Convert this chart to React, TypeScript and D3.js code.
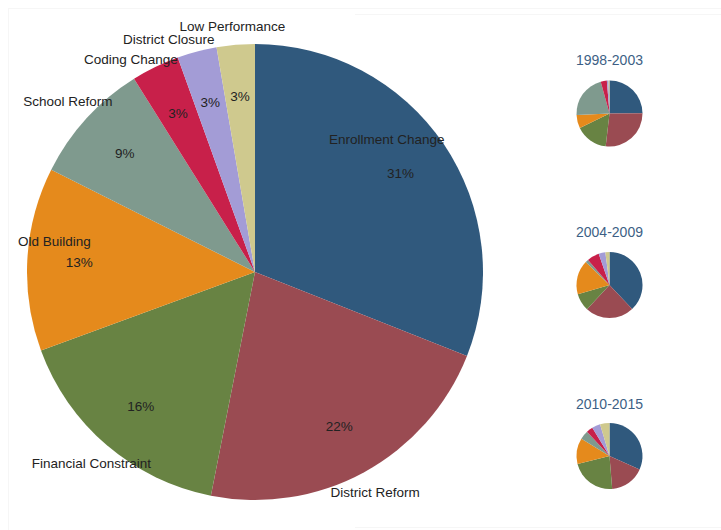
import React from "react";
import * as d3 from "d3";

const categories = [
  "Enrollment Change",
  "District Reform",
  "Financial Constraint",
  "Old Building",
  "School Reform",
  "Coding Change",
  "District Closure",
  "Low Performance",
];
const colors = ["#30597d", "#9a4b52", "#688343", "#e58a1c", "#7f9a8e", "#c8204a", "#a39cd6", "#cfc98e"];

const overallValues = [31.0, 22.1, 16.3, 13.0, 8.7, 3.4, 2.8, 2.7];

const periods = ["1998-2003", "2004-2009", "2010-2015"];
const values1998 = [25, 27, 16, 6.5, 21.5, 3, 0.8, 0.5];
const values2004 = [38, 24, 8.6, 16.7, 1.5, 6, 3.3, 2];
const values2010 = [31.6, 17, 22.3, 12.7, 4.3, 3.2, 4.1, 4.6];
const periodValues = [values1998, values2004, values2010];

// layout
const W = 721, H = 530;
const CX = 255, CY = 272, R = 228;
const PCT_R = 176;
// per-label adjustments (radius, angle offset in degrees) for collision/edge avoidance
const nameAdjust = [
  { r: 187, da: -11 },
  { r: 251, da: 0 },
  { r: 252, da: 0 },
  { r: 203, da: 5.6 },
  { r: 253, da: 0 },
  { r: 246, da: -4.4 },
  { r: 248, da: -5.6 },
  { r: 247, da: -0.4 },
];
const SMALL_CX = 609.5;
const SMALL_R = 33;
const SMALL_CY = [113.5, 285, 456];
const TITLE_Y = [60, 232, 404];

const FONT = "Arial, 'Liberation Sans', Helvetica, sans-serif";

function polar(cx: number, cy: number, r: number, a: number) {
  return [cx + r * Math.sin(a), cy - r * Math.cos(a)];
}

export default function App() {
  const pie = d3.pie<number>().sort(null).value((d) => d);
  const mainArcs = pie(overallValues);
  const total = d3.sum(overallValues);
  const arcMain = d3.arc<d3.PieArcDatum<number>>().innerRadius(0).outerRadius(R);
  const arcSmall = d3.arc<d3.PieArcDatum<number>>().innerRadius(0).outerRadius(SMALL_R);

  return (
    <svg
      width={W}
      height={H}
      style={{ position: "absolute", left: 0, top: 0, background: "#fff" }}
      fontFamily={FONT}
    >
      <g stroke="#f6f6f6" fill="none">
        <line x1={8} y1={8.5} x2={721} y2={8.5} />
        <line x1={8.5} y1={8} x2={8.5} y2={530} />
        <line x1={355} y1={14.5} x2={721} y2={14.5} />
        <line x1={355} y1={527.5} x2={721} y2={527.5} />
      </g>
      <g transform={`translate(${CX},${CY})`}>
        {mainArcs.map((a, i) => (
          <path key={i} d={arcMain(a) || ""} fill={colors[i]} />
        ))}
      </g>
      {mainArcs.map((a, i) => {
        const mid = (a.startAngle + a.endAngle) / 2;
        const [px, py] = polar(CX, CY, PCT_R, mid);
        const adj = nameAdjust[i];
        const [nx, ny] = polar(CX, CY, adj.r, mid + (adj.da * Math.PI) / 180);
        const pct = Math.round((a.value / total) * 100);
        return (
          <g key={i} fontSize={13.5} fill="#222">
            <text x={px} y={py} textAnchor="middle" dy="0.35em">
              {pct}%
            </text>
            <text x={nx} y={ny} textAnchor="middle" dy="0.35em">
              {categories[i]}
            </text>
          </g>
        );
      })}
      {periods.map((p, k) => (
        <g key={p}>
          <text
            x={SMALL_CX}
            y={TITLE_Y[k]}
            textAnchor="middle"
            dy="0.35em"
            fontSize={14}
            fill="#3d5f85"
          >
            {p}
          </text>
          <g transform={`translate(${SMALL_CX},${SMALL_CY[k]})`}>
            {pie(periodValues[k]).map((a, i) => (
              <path key={i} d={arcSmall(a) || ""} fill={colors[i]} />
            ))}
          </g>
        </g>
      ))}
    </svg>
  );
}
